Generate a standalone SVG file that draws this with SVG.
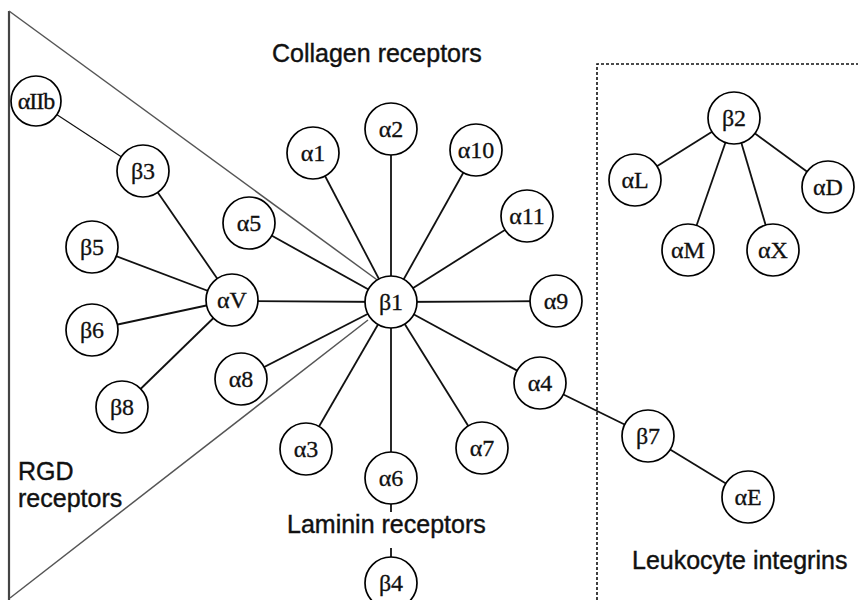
<svg xmlns="http://www.w3.org/2000/svg" width="858" height="600" viewBox="0 0 858 600">
<style>
.n circle{fill:#fff;stroke:#000;stroke-width:1.7}
.n text{font-family:"Liberation Serif","Times New Roman",serif;font-size:24px;text-anchor:middle;fill:#111;stroke:#111;stroke-width:0.3}
.lbl{font-family:"Liberation Sans",Arial,sans-serif;font-size:25px;fill:#111;stroke:#111;stroke-width:0.4}
#connectors line{stroke:#111;stroke-width:1.8}
.frame{stroke:#555;stroke-width:1.5;fill:none}
</style>
<rect width="858" height="600" fill="#fff"/>
<g id="regions">
<line x1="9" y1="11" x2="9" y2="600" stroke="#444" stroke-width="2.2"/>
<line class="frame" x1="9" y1="11" x2="380" y2="282"/>
<line class="frame" x1="368" y1="320" x2="10" y2="598"/>
<path d="M597,600 V64 H858" fill="none" stroke="#111" stroke-width="1.6" stroke-dasharray="3,2"/>
</g>
<g id="connectors">
<line x1="36" y1="101" x2="143" y2="171" style="stroke-width:1.2"/>
<line x1="143" y1="171" x2="232" y2="300"/>
<line x1="92" y1="247" x2="232" y2="300"/>
<line x1="92" y1="330" x2="232" y2="300"/>
<line x1="122" y1="407" x2="232" y2="300"/>
<line x1="232" y1="301" x2="391" y2="302"/>
<line x1="249" y1="223" x2="391" y2="302"/>
<line x1="313" y1="153" x2="391" y2="302"/>
<line x1="391" y1="129" x2="391" y2="302"/>
<line x1="476" y1="150" x2="391" y2="302"/>
<line x1="527" y1="216" x2="391" y2="302"/>
<line x1="556" y1="301" x2="391" y2="302"/>
<line x1="540" y1="383" x2="391" y2="302"/>
<line x1="482" y1="448" x2="391" y2="302"/>
<line x1="391" y1="478" x2="391" y2="302"/>
<line x1="306" y1="449" x2="391" y2="302"/>
<line x1="241" y1="379" x2="391" y2="302"/>
<line x1="391" y1="500" x2="391" y2="512"/>
<line x1="391" y1="548" x2="391" y2="560"/>
<line x1="540" y1="383" x2="648" y2="436"/>
<line x1="648" y1="436" x2="748" y2="497"/>
<line x1="734" y1="118" x2="635" y2="180"/>
<line x1="734" y1="118" x2="688" y2="250"/>
<line x1="734" y1="118" x2="773" y2="250"/>
<line x1="734" y1="118" x2="828" y2="187"/>
</g>
<g id="aIIb" class="n"><circle cx="36" cy="101" r="25"/><text x="36" y="109" letter-spacing="-1">αIIb</text></g>
<g id="b3" class="n"><circle cx="143" cy="171" r="26"/><text x="143" y="179">β3</text></g>
<g id="b5" class="n"><circle cx="92" cy="247" r="26"/><text x="92" y="255">β5</text></g>
<g id="b6" class="n"><circle cx="92" cy="330" r="26"/><text x="92" y="338">β6</text></g>
<g id="b8" class="n"><circle cx="122" cy="407" r="26"/><text x="122" y="415">β8</text></g>
<g id="aV" class="n"><circle cx="232" cy="300" r="26"/><text x="232" y="308">αV</text></g>
<g id="a5" class="n"><circle cx="249" cy="223" r="26"/><text x="249" y="231">α5</text></g>
<g id="a8" class="n"><circle cx="241" cy="379" r="26"/><text x="241" y="387">α8</text></g>
<g id="b1" class="n"><circle cx="391" cy="302" r="26"/><text x="391" y="310">β1</text></g>
<g id="a1" class="n"><circle cx="313" cy="153" r="26"/><text x="313" y="161">α1</text></g>
<g id="a2" class="n"><circle cx="391" cy="129" r="26"/><text x="391" y="137">α2</text></g>
<g id="a10" class="n"><circle cx="476" cy="150" r="26"/><text x="476" y="158">α10</text></g>
<g id="a11" class="n"><circle cx="527" cy="216" r="26"/><text x="527" y="224">α11</text></g>
<g id="a9" class="n"><circle cx="556" cy="301" r="26"/><text x="556" y="309">α9</text></g>
<g id="a4" class="n"><circle cx="540" cy="383" r="26"/><text x="540" y="391">α4</text></g>
<g id="a7" class="n"><circle cx="482" cy="448" r="26"/><text x="482" y="456">α7</text></g>
<g id="a3" class="n"><circle cx="306" cy="449" r="26"/><text x="306" y="457">α3</text></g>
<g id="a6" class="n"><circle cx="391" cy="478" r="26"/><text x="391" y="486">α6</text></g>
<g id="b4" class="n"><circle cx="391" cy="583" r="26"/><text x="391" y="591">β4</text></g>
<g id="b7" class="n"><circle cx="648" cy="436" r="26"/><text x="648" y="444">β7</text></g>
<g id="aE" class="n"><circle cx="748" cy="497" r="26"/><text x="748" y="505">αE</text></g>
<g id="b2" class="n"><circle cx="734" cy="118" r="26"/><text x="734" y="126">β2</text></g>
<g id="aL" class="n"><circle cx="635" cy="180" r="26"/><text x="635" y="188">αL</text></g>
<g id="aD" class="n"><circle cx="828" cy="187" r="26"/><text x="828" y="195">αD</text></g>
<g id="aM" class="n"><circle cx="688" cy="250" r="26"/><text x="688" y="258">αM</text></g>
<g id="aX" class="n"><circle cx="773" cy="250" r="26"/><text x="773" y="258">αX</text></g>
<g id="labels">
<text class="lbl" x="272" y="62">Collagen receptors</text>
<text class="lbl" x="18" y="480">RGD</text>
<text class="lbl" x="18" y="507">receptors</text>
<text class="lbl" x="287" y="533">Laminin receptors</text>
<text class="lbl" x="632" y="569">Leukocyte integrins</text>
</g>
</svg>
